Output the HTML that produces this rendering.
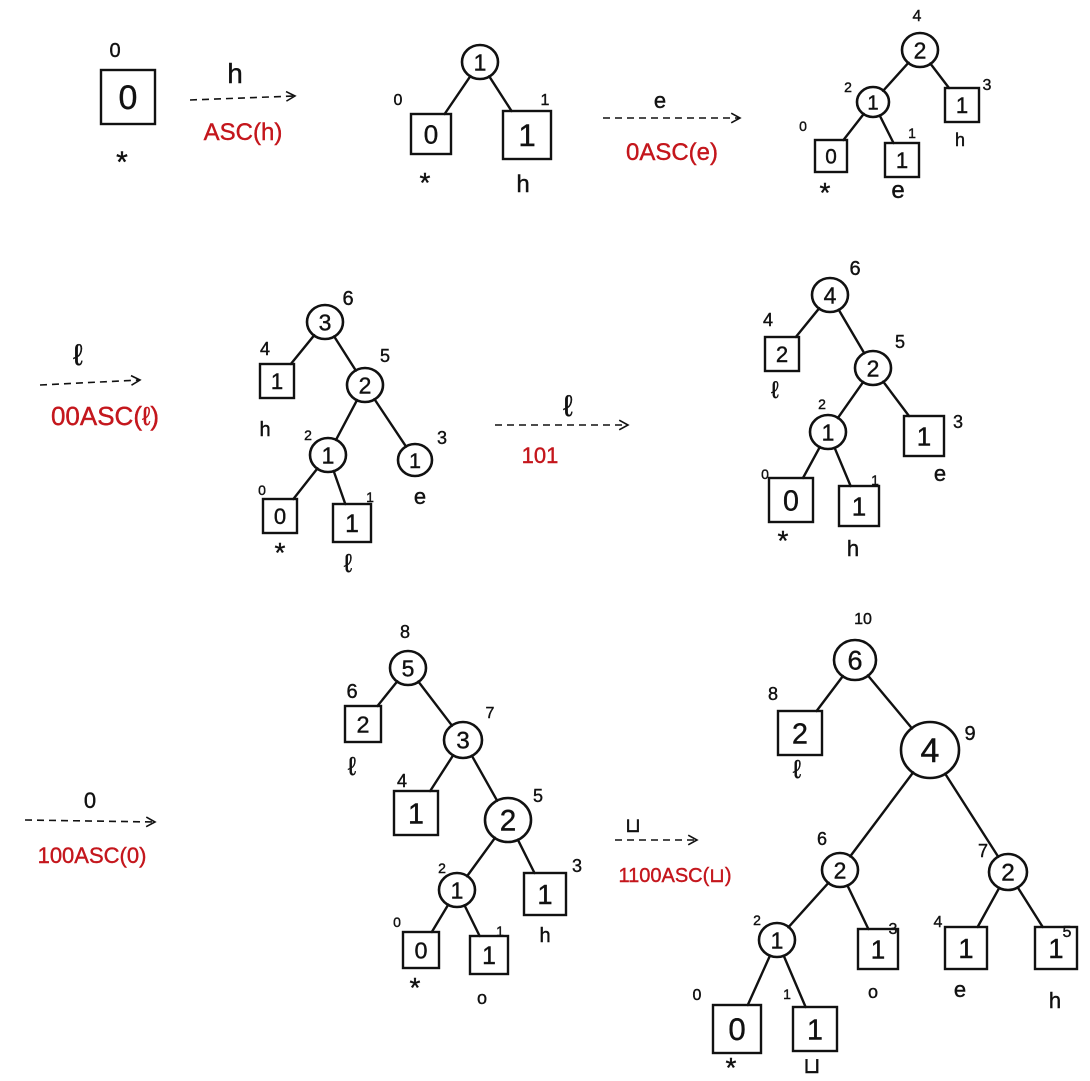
<!DOCTYPE html>
<html>
<head>
<meta charset="utf-8">
<style>
html,body{margin:0;padding:0;background:#fff;}
svg{display:block;}
text{font-family:"Liberation Sans","DejaVu Sans",sans-serif;fill:#111;stroke:#111;stroke-width:0.4;}
.red{fill:#c4161c;stroke:#c4161c;}
</style>
</head>
<body>
<svg id="s" width="1090" height="1081" viewBox="0 0 1090 1081"></svg>
<script>
// Nodes: [id, kind(c=circle,s=square), cx, cy, size, value]
const nodes = [
 ["p1a","s",128,97,54,"0"],
 ["p2r","c",480,62,17,"1"],["p2a","s",431,134,40,"0"],["p2b","s",527,135,48,"1"],
 ["p3r","c",920,50,17,"2"],["p3i","c",873,102,15,"1"],["p3h","s",962,105,34,"1"],
 ["p3a","s",831,156,32,"0"],["p3e","s",902,160,34,"1"],
 ["p4r","c",325,322,17,"3"],["p4h","s",277,381,34,"1"],["p4n","c",365,385,17,"2"],
 ["p4i","c",328,455,17,"1"],["p4e","c",415,460,16,"1"],["p4a","s",280,516,34,"0"],["p4l","s",352,523,38,"1"],
 ["p5r","c",830,295,17,"4"],["p5l","s",782,354,34,"2"],["p5n","c",873,368,17,"2"],
 ["p5i","c",828,432,17,"1"],["p5e","s",924,436,40,"1"],["p5a","s",791,500,44,"0"],["p5h","s",859,506,40,"1"],
 ["p6r","c",408,668,17,"5"],["p6l","s",363,724,36,"2"],["p6n","c",463,740,18,"3"],
 ["p6f","s",416,813,44,"1"],["p6m","c",508,820,22,"2"],["p6i","c",457,890,17,"1"],
 ["p6h","s",545,894,42,"1"],["p6a","s",421,950,36,"0"],["p6o","s",489,955,38,"1"],
 ["p7r","c",855,660,20,"6"],["p7l","s",800,733,44,"2"],["p7n","c",930,750,28,"4"],
 ["p7m","c",840,870,17,"2"],["p7k","c",1008,872,18,"2"],["p7i","c",777,940,17,"1"],
 ["p7o","s",878,949,40,"1"],["p7e","s",966,948,42,"1"],["p7h","s",1056,948,42,"1"],
 ["p7a","s",737,1029,48,"0"],["p7s","s",815,1029,44,"1"]
];
const edges = [
 ["p2r","p2a"],["p2r","p2b"],
 ["p3r","p3i"],["p3r","p3h"],["p3i","p3a"],["p3i","p3e"],
 ["p4r","p4h"],["p4r","p4n"],["p4n","p4i"],["p4n","p4e"],["p4i","p4a"],["p4i","p4l"],
 ["p5r","p5l"],["p5r","p5n"],["p5n","p5i"],["p5n","p5e"],["p5i","p5a"],["p5i","p5h"],
 ["p6r","p6l"],["p6r","p6n"],["p6n","p6f"],["p6n","p6m"],["p6m","p6i"],["p6m","p6h"],["p6i","p6a"],["p6i","p6o"],
 ["p7r","p7l"],["p7r","p7n"],["p7n","p7m"],["p7n","p7k"],["p7m","p7i"],["p7m","p7o"],["p7k","p7e"],["p7k","p7h"],["p7i","p7a"],["p7i","p7s"]
];
const labels = [
 [115,57,"0",20,0],[122,172,"*",30,0],
 [398,105,"0",16,0],[545,105,"1",16,0],[425,192,"*",28,0],[523,192,"h",24,0],
 [917,21,"4",16,0],[848,92,"2",14,0],[987,90,"3",16,0],[960,146,"h",18,0],[803,131,"0",14,0],[912,138,"1",14,0],[825,202,"*",28,0],[898,198,"e",24,0],
 [348,305,"6",20,0],[265,355,"4",18,0],[385,362,"5",18,0],[308,440,"2",14,0],[442,444,"3",18,0],[265,436,"h",20,0],[420,504,"e",22,0],[262,495,"0",14,0],[370,502,"1",14,0],[280,562,"*",28,0],[348,572,"ℓ",26,0],
 [855,275,"6",20,0],[768,326,"4",18,0],[900,348,"5",18,0],[822,409,"2",14,0],[958,428,"3",18,0],[775,398,"ℓ",24,0],[940,481,"e",22,0],[765,479,"0",14,0],[875,485,"1",14,0],[783,550,"*",28,0],[853,556,"h",22,0],
 [405,638,"8",18,0],[352,698,"6",20,0],[490,718,"7",16,0],[402,787,"4",18,0],[538,802,"5",18,0],[442,873,"2",14,0],[577,872,"3",18,0],[352,775,"ℓ",26,0],[545,942,"h",20,0],[397,927,"0",14,0],[500,936,"1",14,0],[415,997,"*",28,0],[482,1004,"o",18,0],
 [863,624,"10",16,0],[773,700,"8",18,0],[970,740,"9",20,0],[822,845,"6",18,0],[983,857,"7",18,0],[757,925,"2",14,0],[893,934,"3",16,0],[938,927,"4",16,0],[1067,937,"5",16,0],[797,778,"ℓ",26,0],[873,998,"o",18,0],[960,997,"e",22,0],[1055,1008,"h",22,0],[697,1000,"0",16,0],[787,999,"1",14,0],[731,1077,"*",28,0],[812,1073,"⊔",22,0],
 [235,83,"h",28,0],[243,140,"ASC(h)",24,1],
 [660,108,"e",22,0],[672,160,"0ASC(e)",24,1],
 [78,365,"ℓ",30,0],[105,425,"00ASC(ℓ)",26,1],
 [568,416,"ℓ",30,0],[540,463,"101",22,1],
 [90,808,"0",22,0],[92,863,"100ASC(0)",22,1],
 [633,832,"⊔",20,0],[675,882,"1100ASC(⊔)",20,1]
];
const arrows = [[190,100,295,96],[603,118,740,118],[40,385,140,380],[495,425,628,425],[25,820,155,822],[615,840,697,840]];

const NS="http://www.w3.org/2000/svg";
const svg=document.getElementById("s");
function mk(tag,attrs){const e=document.createElementNS(NS,tag);for(const k in attrs)e.setAttribute(k,attrs[k]);svg.appendChild(e);return e;}
const map={};nodes.forEach(n=>map[n[0]]=n);
function edgePt(n,tx,ty){
  const dx=tx-n[2],dy=ty-n[3],d=Math.hypot(dx,dy)||1;
  if(n[1]=="c")return [n[2]+dx/d*n[4],n[3]+dy/d*n[4]];
  const h=n[4]/2,t=Math.min(h/Math.abs(dx||1e-6),h/Math.abs(dy||1e-6));
  return [n[2]+dx*t,n[3]+dy*t];
}
edges.forEach(([a,b])=>{
  const A=map[a],B=map[b];
  const p=edgePt(A,B[2],B[3]),q=edgePt(B,A[2],A[3]);
  const l=mk("line",{x1:p[0],y1:p[1],x2:q[0],y2:q[1],stroke:"#111","stroke-width":2.4,"stroke-linecap":"round"});
  
  
});
nodes.forEach(n=>{
  let e;
  if(n[1]=="c"){
    e=mk("ellipse",{cx:n[2],cy:n[3],rx:n[4]+1,ry:n[4],fill:"none",stroke:"#111","stroke-width":2.6});
    
  }else{
    const h=n[4]/2;
    e=mk("rect",{x:n[2]-h,y:n[3]-h,width:n[4],height:n[4],fill:"none",stroke:"#111","stroke-width":2.4});
    
  }
  
  const fs=Math.max(18,Math.min(34,n[4]*(n[1]=="c"?1.35:0.65)));
  const t=mk("text",{x:n[2],y:n[3]+fs*0.36,"font-size":fs,"text-anchor":"middle"});
  t.textContent=n[5];
  
  
});
labels.forEach(l=>{
  const t=mk("text",{x:l[0],y:l[1],"font-size":l[3],"text-anchor":"middle"});
  if(l[4])t.setAttribute("class","red");
  t.textContent=l[2];
  
  
});
arrows.forEach(a=>{
  const l=mk("line",{x1:a[0],y1:a[1],x2:a[2],y2:a[3],stroke:"#111","stroke-width":1.6,"stroke-dasharray":"7 5"});
  
  
  const ang=Math.atan2(a[3]-a[1],a[2]-a[0]);
  const p=`M${a[2]-10*Math.cos(ang-0.5)},${a[3]-10*Math.sin(ang-0.5)} L${a[2]},${a[3]} L${a[2]-10*Math.cos(ang+0.5)},${a[3]-10*Math.sin(ang+0.5)}`;
  const h=mk("path",{d:p,fill:"none",stroke:"#111","stroke-width":1.6});
  
  
});
</script>
</body>
</html>
